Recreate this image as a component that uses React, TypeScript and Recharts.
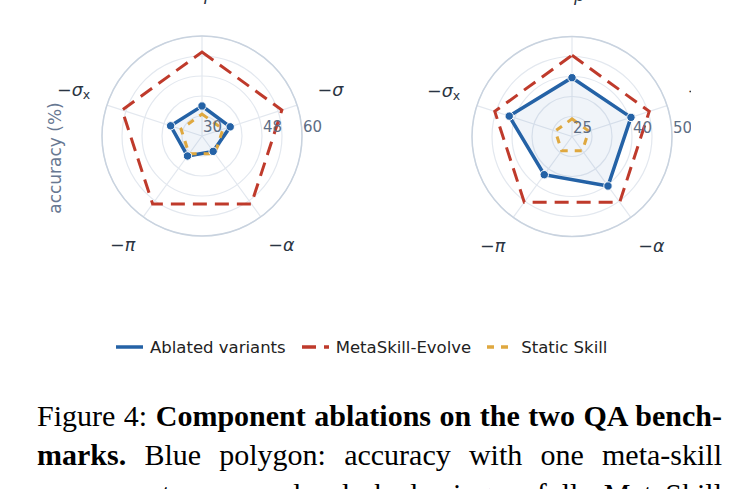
import React from 'react';
import { RadarChart, Radar, PolarGrid, PolarAngleAxis, PolarRadiusAxis } from 'recharts';

// ---- data ----
const axisKeys = ['−ρ', '−σ', '−α', '−π', '−σx'];
const axisSymbols = ['ρ', 'σ', 'α', 'π', 'σ'];
const axisSubscripts = ['', '', '', '', 'x'];

const leftAblated = [39.0, 38.9, 35.7, 37.4, 39.9];
const leftFull = [55.2, 55.2, 55.2, 55.2, 55.2];
const leftStatic = [36.6, 36.6, 36.6, 36.6, 36.6];
const leftDomain = [30, 60];
const leftTicks = [30, 36, 42, 48, 54, 60];
const leftTickLabels = [30, 48, 60];

const rightAblated = [39.7, 40.5, 40.3, 36.8, 41.5];
const rightFull = [45.3, 45.3, 45.3, 45.3, 45.3];
const rightStatic = [29.4, 29.4, 29.4, 29.4, 29.4];
const rightDomain = [25, 50];
const rightTicks = [25, 30, 35, 40, 45, 50];
const rightTickLabels = [25, 40, 50];

const seriesNames = ['Ablated variants', 'MetaSkill-Evolve', 'Static Skill'];

// ---- styles ----
const BLUE = '#2462a6';
const RED = '#bf3a2b';
const YELLOW = '#dfa83f';
const GRID = '#e3e8ef';
const OUTER = '#c9d3df';
const TICK = '#5d6d84';
const LABEL = '#2a3442';
const FONT = 'DejaVu Sans';
const seriesColors = [BLUE, RED, YELLOW];
const seriesDash = ['', '14 8', '7 7'];

const buildRows = (a: number[], f: number[], s: number[]) =>
  axisKeys.map((k, i) => ({ axis: k, ablated: a[i], full: f[i], stat: s[i] }));

const AngleTick = (props: any) => {
  const { x, y, payload, cy } = props;
  const i = axisKeys.indexOf(payload.value);
  const frac = cy !== undefined ? (cy - y) / 135 : 0;
  const yy = frac > 0.05 ? y - (3 + 4 * frac) : y;
  return (
    <text x={x} y={yy} textAnchor="middle" dominantBaseline="central" fontFamily={FONT} fontSize={17.5} fill={LABEL}>
      <tspan>−</tspan>
      <tspan fontStyle="italic">{axisSymbols[i]}</tspan>
      {axisSubscripts[i] ? (
        <tspan fontSize={12.5} dy={4}>{axisSubscripts[i]}</tspan>
      ) : null}
    </text>
  );
};

const makeRadiusTick = (labels: number[]) => (props: any) => {
  const { x, y, payload } = props;
  if (!labels.includes(payload.value)) return <g />;
  return (
    <text x={x + 1} y={y - 4} textAnchor="start" fontFamily={FONT} fontSize={15} fill={TICK}>
      {payload.value}
    </text>
  );
};

const BlueDot = (props: any) => (
  <circle key={`d-${props.index}`} cx={props.cx} cy={props.cy} r={4.2} fill={BLUE} stroke="#ffffff" strokeWidth={1} />
);

type PanelProps = {
  rows: any[];
  domain: number[];
  ticks: number[];
  tickLabels: number[];
  cy: number;
};

const Panel = ({ rows, domain, ticks, tickLabels, cy }: PanelProps) => (
  <RadarChart width={370} height={280} data={rows} cx={202} cy={cy} outerRadius={100} startAngle={90} endAngle={-270}>
    <PolarGrid gridType="circle" stroke={GRID} strokeWidth={1.2} />
    <PolarRadiusAxis
      angle={0}
      type="number"
      domain={domain as any}
      ticks={ticks as any}
      tickCount={ticks.length}
      axisLine={false}
      tickLine={false}
      tick={makeRadiusTick(tickLabels)}
    />
    <PolarAngleAxis
      dataKey="axis"
      tickSize={35}
      tickLine={false}
      axisLineType="circle"
      axisLine={{ stroke: OUTER, strokeWidth: 1.5 }}
      tick={AngleTick}
    />
    <Radar
      name={seriesNames[0]}
      dataKey="ablated"
      stroke={BLUE}
      strokeWidth={3.5}
      fill={BLUE}
      fillOpacity={0.07}
      dot={BlueDot}
      isAnimationActive={false}
    />
    <Radar
      name={seriesNames[1]}
      dataKey="full"
      stroke={RED}
      strokeWidth={3}
      strokeDasharray={seriesDash[1]}
      fill="none"
      fillOpacity={0}
      dot={false}
      isAnimationActive={false}
    />
    <Radar
      name={seriesNames[2]}
      dataKey="stat"
      stroke={YELLOW}
      strokeWidth={3}
      strokeDasharray={seriesDash[2]}
      fill="none"
      fillOpacity={0}
      dot={false}
      isAnimationActive={false}
    />
  </RadarChart>
);

const captionLines = [
  [
    { t: 'Figure 4: ', b: false },
    { t: 'Component ablations on the two QA bench-', b: true },
  ],
  [
    { t: 'marks.', b: true },
    { t: ' Blue polygon: accuracy with one meta-skill', b: false },
  ],
  [{ t: 'component removed; dashed rings: full MetaSkill', b: false }],
];

export default function App() {
  const leftRows = buildRows(leftAblated, leftFull, leftStatic);
  const rightRows = buildRows(rightAblated, rightFull, rightStatic);
  return (
    <div style={{ position: 'absolute', left: 0, top: 0, width: 733, height: 489, background: '#fff', overflow: 'hidden' }}>
      <div style={{ position: 'absolute', left: 0, top: 0, width: 691, height: 290, overflow: 'hidden' }}>
        <div style={{ position: 'absolute', left: 0, top: 0 }}>
          <Panel rows={leftRows} domain={leftDomain} ticks={leftTicks} tickLabels={leftTickLabels} cy={136} />
        </div>
        <div style={{ position: 'absolute', left: 370, top: 0 }}>
          <Panel rows={rightRows} domain={rightDomain} ticks={rightTicks} tickLabels={rightTickLabels} cy={136.5} />
        </div>
        <svg style={{ position: 'absolute', left: 0, top: 0 }} width={120} height={280}>
          <text
            x={55}
            y={158}
            transform="rotate(-90 55 158)"
            textAnchor="middle"
            dominantBaseline="central"
            fontFamily={FONT}
            fontSize={17}
            fill="#687892"
          >
            accuracy (%)
          </text>
        </svg>
      </div>

      <div
        style={{
          position: 'absolute',
          left: 116,
          top: 337,
          height: 20,
          display: 'flex',
          alignItems: 'center',
          gap: 16,
          fontFamily: FONT,
          fontSize: 16.5,
          color: '#222',
          whiteSpace: 'nowrap',
        }}
      >
        {seriesNames.map((n, i) => (
          <div key={n} style={{ display: 'flex', alignItems: 'center' }}>
            <svg width={27} height={10} style={{ display: 'block' }}>
              <line x1={0} y1={5} x2={27} y2={5} stroke={seriesColors[i]} strokeWidth={3.5} strokeDasharray={seriesDash[i] || undefined} />
            </svg>
            <span style={{ marginLeft: 7 }}>{n}</span>
          </div>
        ))}
      </div>

      <div style={{ position: 'absolute', left: 37, top: 396, width: 685, fontFamily: 'Liberation Serif', fontSize: 30, lineHeight: '39px', color: '#000' }}>
        {captionLines.map((line, li) => (
          <div key={li} style={{ textAlign: 'justify', textAlignLast: 'justify', whiteSpace: 'normal' }}>
            {line.map((seg, si) => (
              <span key={si} style={{ fontWeight: seg.b ? 700 : 400 }}>{seg.t}</span>
            ))}
          </div>
        ))}
      </div>
    </div>
  );
}
